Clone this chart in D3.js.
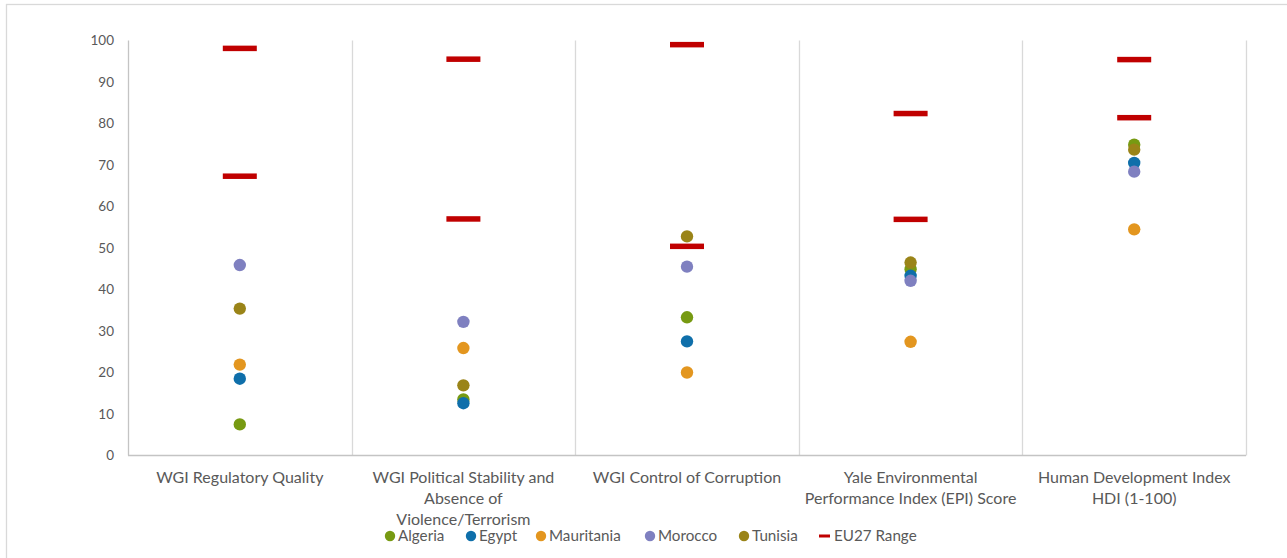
<!DOCTYPE html>
<html>
<head>
<meta charset="utf-8">
<script src="https://cdn.jsdelivr.net/npm/d3@7/dist/d3.min.js"></script>
<style>
  html, body { margin: 0; padding: 0; background: #fff; }
  svg { display: block; font-family: Lato, "Open Sans", sans-serif; }
</style>
</head>
<body>
<svg id="chart" width="1287" height="558"></svg>
<script>
// Indicator categories and their wrapped label lines
const categories = ["RQ", "PS", "CC", "EPI", "HDI"];
const categoryLabels = [
  ["WGI Regulatory Quality"],
  ["WGI Political Stability and", "Absence of", "Violence/Terrorism"],
  ["WGI Control of Corruption"],
  ["Yale Environmental", "Performance Index (EPI) Score"],
  ["Human Development Index", "HDI (1-100)"]
];

// Country scores per indicator (0-100)
const algeria    = [7.5, 13.5, 33.3, 44.9, 74.9];
const egypt      = [18.5, 12.6, 27.5, 43.3, 70.5];
const mauritania = [21.9, 25.9, 20.0, 27.4, 54.5];
const morocco    = [45.9, 32.2, 45.5, 42.1, 68.4];
const tunisia    = [35.4, 16.9, 52.8, 46.5, 73.7];

// EU27 range: lowest and highest member-state score
const euMin = [67.3, 57.0, 50.4, 56.9, 81.4];
const euMax = [98.1, 95.5, 99.0, 82.4, 95.4];

const yTicks = [0, 10, 20, 30, 40, 50, 60, 70, 80, 90, 100];

const countries = [
  { name: "Algeria",    values: algeria,    color: "#779A12" },
  { name: "Egypt",      values: egypt,      color: "#0F6FAA" },
  { name: "Mauritania", values: mauritania, color: "#E3961F" },
  { name: "Morocco",    values: morocco,    color: "#7F80C0" },
  { name: "Tunisia",    values: tunisia,    color: "#9A8418" }
];
const euColor = "#C00000";

const svg = d3.select("#chart");

// Outer chart frame
svg.append("rect")
  .attr("x", 6.5).attr("y", 4.5)
  .attr("width", 1300).attr("height", 570)
  .attr("fill", "#fff")
  .attr("stroke", "#d9d9d9").attr("stroke-width", 1.3);

const plot = { left: 128, right: 1246, top: 40.5, bottom: 455.5 };

const x = d3.scaleBand().domain(categories).range([plot.left, plot.right]).padding(0);
const y = d3.scaleLinear().domain([0, 100]).range([plot.bottom, plot.top]);

// Vertical separators between indicators
const bounds = categories.map(c => x(c)).concat([x(categories[categories.length - 1]) + x.bandwidth()]);
svg.append("g").selectAll("line").data(bounds).join("line")
  .attr("x1", d => Math.round(d) + 0.5).attr("x2", d => Math.round(d) + 0.5)
  .attr("y1", plot.top).attr("y2", plot.bottom)
  .attr("stroke", d => d === plot.left ? "#c4c4c4" : "#d9d9d9")
  .attr("stroke-width", 1.3);

// Horizontal baseline
svg.append("line")
  .attr("x1", plot.left).attr("x2", plot.right)
  .attr("y1", plot.bottom).attr("y2", plot.bottom)
  .attr("stroke", "#c4c4c4").attr("stroke-width", 1.3);

// Y axis labels
const yAxis = d3.axisLeft(y).tickValues(yTicks).tickSize(0).tickPadding(14).tickFormat(d3.format("d"));
const yg = svg.append("g").attr("transform", `translate(${plot.left},0)`).call(yAxis);
yg.select(".domain").remove();
yg.selectAll("text")
  .attr("fill", "#595959")
  .attr("font-size", "13.5px")
  .attr("font-family", "Lato, sans-serif");

// Category labels (wrapped)
const catG = svg.append("g");
categories.forEach((c, i) => {
  const t = catG.append("text")
    .attr("x", x(c) + x.bandwidth() / 2)
    .attr("y", 483)
    .attr("text-anchor", "middle")
    .attr("fill", "#595959")
    .attr("font-size", "16px");
  categoryLabels[i].forEach((line, j) => {
    t.append("tspan")
      .attr("x", x(c) + x.bandwidth() / 2)
      .attr("dy", j === 0 ? 0 : 21)
      .text(line);
  });
});

// EU27 range markers (min and max dashes)
const euG = svg.append("g");
const dashW = 34, dashH = 5.5;

// Country markers
const dotG = svg.append("g");
countries.forEach(s => {
  dotG.selectAll(null).data(s.values).join("circle")
    .attr("cx", (d, i) => x(categories[i]) + x.bandwidth() / 2)
    .attr("cy", d => y(d))
    .attr("r", 6.2)
    .attr("fill", s.color);
});

[euMin, euMax].forEach(arr => {
  euG.selectAll(null).data(arr).join("rect")
    .attr("x", (d, i) => x(categories[i]) + x.bandwidth() / 2 - dashW / 2)
    .attr("y", d => y(d) - dashH / 2)
    .attr("width", dashW)
    .attr("height", dashH)
    .attr("fill", euColor);
});
euG.raise();

// Legend
const legendItems = countries.map(s => ({ name: s.name, color: s.color, type: "dot" }))
  .concat([{ name: "EU27 Range", color: euColor, type: "dash" }]);
const legendX = [390, 471, 541, 650, 744, 825];
const legendY = 536;
const lg = svg.append("g");
legendItems.forEach((d, i) => {
  const g = lg.append("g").attr("transform", `translate(${legendX[i]},${legendY})`);
  if (d.type === "dot") {
    g.append("circle").attr("r", 5.2).attr("fill", d.color);
  } else {
    g.append("rect").attr("x", -6).attr("y", -1.5).attr("width", 11).attr("height", 3).attr("fill", d.color);
  }
  g.append("text")
    .attr("x", d.type === "dot" ? 8 : 9)
    .attr("y", 0)
    .attr("dy", "0.35em")
    .attr("fill", "#595959")
    .attr("font-size", "15.2px")
    .text(d.name);
});
</script>
</body>
</html>
